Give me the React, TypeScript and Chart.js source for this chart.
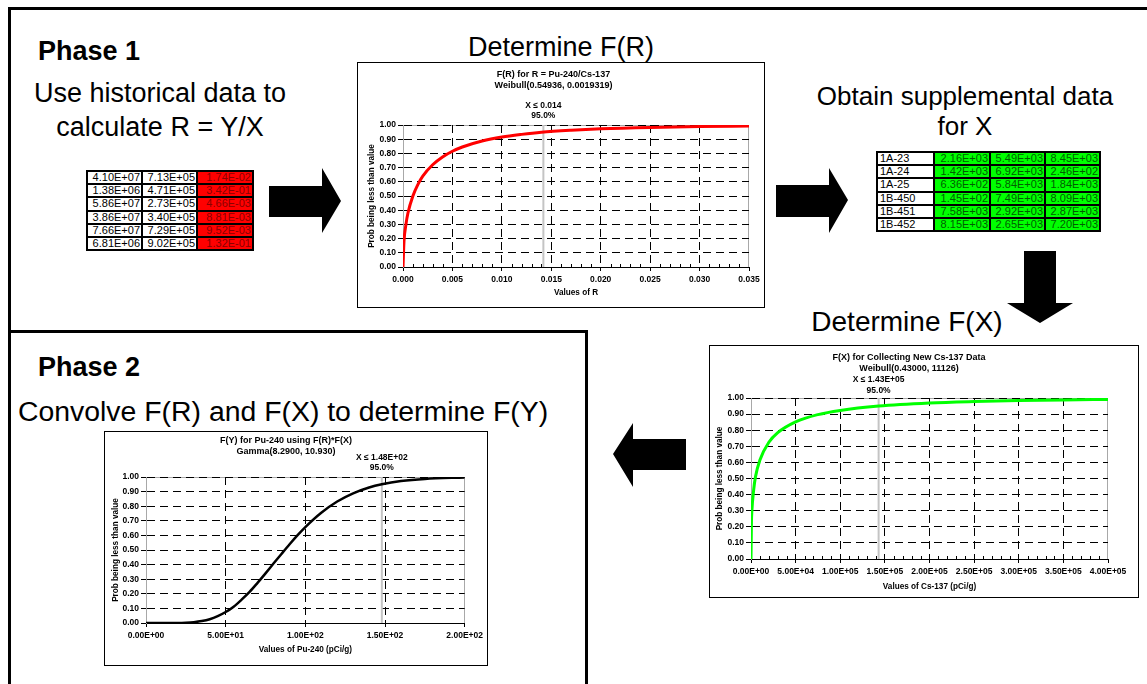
import React, { useEffect, useRef } from 'react';
import { Chart, registerables } from 'chart.js';

Chart.register(...registerables);

const FONT = 'Arial, "Liberation Sans", Helvetica, sans-serif';

// ---- Phase 1 table: historical data (Y, X, R = Y/X)
const HIST_Y = ['4.10E+07', '1.38E+06', '5.86E+07', '3.86E+07', '7.66E+07', '6.81E+06'];
const HIST_X = ['7.13E+05', '4.71E+05', '2.73E+05', '3.40E+05', '7.29E+05', '9.02E+05'];
const HIST_R = ['1.74E-02', '3.42E-01', '4.66E-03', '8.81E-03', '9.52E-03', '1.32E-01'];

// ---- Supplemental data for X
const SUPP_IDS = ['1A-23', '1A-24', '1A-25', '1B-450', '1B-451', '1B-452'];
const SUPP_C1 = ['2.16E+03', '1.42E+03', '6.36E+02', '1.45E+02', '7.58E+03', '8.15E+03'];
const SUPP_C2 = ['5.49E+03', '6.92E+03', '5.84E+03', '7.49E+03', '2.92E+03', '2.65E+03'];
const SUPP_C3 = ['8.45E+03', '2.46E+02', '1.84E+03', '8.09E+03', '2.87E+03', '7.20E+03'];

// ---- Shared probability axis
const Y_TICKS = [0, 0.1, 0.2, 0.3, 0.4, 0.5, 0.6, 0.7, 0.8, 0.9, 1.0];
const Y_LABELS = ['0.00', '0.10', '0.20', '0.30', '0.40', '0.50', '0.60', '0.70', '0.80', '0.90', '1.00'];

// ---- F(R): Weibull(0.54936, 0.0019319)
const FR_X = [0, 0.0001, 0.0003, 0.0005, 0.001, 0.0015, 0.002, 0.003, 0.004, 0.005, 0.006, 0.008, 0.010, 0.012, 0.014, 0.017, 0.020, 0.025, 0.030, 0.035];
const FR_P = [0, 0.18, 0.30, 0.38, 0.50, 0.58, 0.64, 0.72, 0.775, 0.815, 0.845, 0.887, 0.915, 0.934, 0.949, 0.963, 0.973, 0.983, 0.989, 0.993];
const FR_XTICKS = [0, 0.005, 0.010, 0.015, 0.020, 0.025, 0.030, 0.035];
const FR_XLABELS = ['0.000', '0.005', '0.010', '0.015', '0.020', '0.025', '0.030', '0.035'];
const FR_MINOR = [0.001, 0.002, 0.003, 0.004, 0.006, 0.007, 0.008, 0.009, 0.011, 0.012, 0.013, 0.014, 0.016, 0.017, 0.018, 0.019, 0.021, 0.022, 0.023, 0.024, 0.026, 0.027, 0.028, 0.029, 0.031, 0.032, 0.033, 0.034];
const FR_Q95 = 0.0142;

// ---- F(X): Weibull(0.43000, 11126)
const FX_X = [0, 500, 1000, 3000, 5000, 10000, 20000, 30000, 50000, 75000, 100000, 143000, 200000, 250000, 300000, 350000, 400000];
const FX_P = [0, 0.23, 0.30, 0.43, 0.51, 0.615, 0.725, 0.785, 0.852, 0.897, 0.923, 0.950, 0.969, 0.978, 0.984, 0.988, 0.991];
const FX_XTICKS = [0, 50000, 100000, 150000, 200000, 250000, 300000, 350000, 400000];
const FX_XLABELS = ['0.00E+00', '5.00E+04', '1.00E+05', '1.50E+05', '2.00E+05', '2.50E+05', '3.00E+05', '3.50E+05', '4.00E+05'];
const FX_MINOR = [10000, 20000, 30000, 40000, 60000, 70000, 80000, 90000, 110000, 120000, 130000, 140000, 160000, 170000, 180000, 190000, 210000, 220000, 230000, 240000, 260000, 270000, 280000, 290000, 310000, 320000, 330000, 340000, 360000, 370000, 380000, 390000];
const FX_Q95 = 143000;

// ---- F(Y): Gamma(8.2900, 10.930)
const FY_X = [0, 20, 25, 30, 35, 40, 45, 50, 55, 60, 65, 70, 75, 80, 85, 90, 95, 100, 110, 120, 130, 140, 148, 160, 175, 200];
const FY_P = [0, 0.0005, 0.002, 0.0055, 0.013, 0.026, 0.047, 0.075, 0.112, 0.16, 0.213, 0.275, 0.34, 0.407, 0.473, 0.538, 0.60, 0.657, 0.755, 0.832, 0.888, 0.928, 0.950, 0.972, 0.987, 0.997];
const FY_XTICKS = [0, 50, 100, 150, 200];
const FY_XLABELS = ['0.00E+00', '5.00E+01', '1.00E+02', '1.50E+02', '2.00E+02'];
const FY_Q95 = 148;

type Spec = {
  w: number; h: number;
  xs: number[]; ps: number[];
  color: string; lw: number;
  xMin: number; xMax: number;
  xTicks: number[]; xLabels: string[]; minor: number[];
  title: string[]; annot: string[]; q95: number;
  xTitle: string; yTitle: string;
  yW: number; right: number; xH: number;
  titleTop: number; titleBottom: number;
  yTitlePad: number; xTitlePad: number;
  annotDy: number[];
};

function ProbChart({ spec }: { spec: Spec }) {
  const ref = useRef<HTMLCanvasElement | null>(null);
  useEffect(() => {
    const canvas = ref.current;
    if (!canvas) return;
    const s = spec;
    const decor = {
      id: 'decor',
      beforeDraw(chart: any) {
        const { ctx, chartArea: a } = chart;
        ctx.save();
        ctx.fillStyle = '#ffffff';
        ctx.fillRect(0, 0, chart.width, chart.height);
        ctx.strokeStyle = '#a8a8a8';
        ctx.lineWidth = 1;
        ctx.strokeRect(Math.round(a.left) + 0.5, Math.round(a.top) + 0.5, Math.round(a.right - a.left) - 1, Math.round(a.bottom - a.top));
        ctx.restore();
      },
      beforeDatasetsDraw(chart: any) {
        const { ctx, chartArea: a, scales } = chart;
        ctx.save();
        const qx = scales.x.getPixelForValue(s.q95);
        ctx.strokeStyle = '#c4c4c4';
        ctx.lineWidth = 2;
        ctx.beginPath();
        ctx.moveTo(qx, a.top);
        ctx.lineTo(qx, a.bottom);
        ctx.stroke();
        ctx.strokeStyle = '#000';
        ctx.lineWidth = 1;
        for (const v of s.minor) {
          const px = Math.round(scales.x.getPixelForValue(v)) + 0.5;
          ctx.beginPath();
          ctx.moveTo(px, a.bottom);
          ctx.lineTo(px, a.bottom - 3);
          ctx.stroke();
        }
        ctx.restore();
      },
      afterDraw(chart: any) {
        const { ctx, chartArea: a, scales } = chart;
        const qx = scales.x.getPixelForValue(s.q95);
        ctx.save();
        ctx.fillStyle = '#000';
        ctx.font = `bold 8.5px ${FONT}`;
        ctx.textAlign = 'center';
        ctx.textBaseline = 'middle';
        s.annot.forEach((t, i) => ctx.fillText(t, qx, a.top + s.annotDy[i]));
        ctx.restore();
      },
    };
    const tickFont = { family: FONT, size: 8.5, weight: 'bold' as const };
    const axisFont = { family: FONT, size: 8.2, weight: 'bold' as const };
    const clear = 'rgba(0,0,0,0)';
    const chart = new Chart(canvas, {
      type: 'line',
      data: {
        datasets: [
          {
            data: s.xs.map((x, i) => ({ x, y: s.ps[i] })),
            borderColor: s.color,
            borderWidth: s.lw,
            pointRadius: 0,
            fill: false,
            cubicInterpolationMode: 'monotone',
          },
        ],
      },
      options: {
        animation: false,
        responsive: false,
        devicePixelRatio: 1,
        events: [],
        layout: { padding: { left: 0, right: s.right, top: 0, bottom: 0 } },
        plugins: {
          legend: { display: false },
          tooltip: { enabled: false },
          title: {
            display: true,
            text: s.title,
            color: '#000',
            font: { family: FONT, size: 9, weight: 'bold', lineHeight: 11 / 9 },
            padding: { top: s.titleTop, bottom: s.titleBottom },
          },
        },
        scales: {
          x: {
            type: 'linear',
            min: s.xMin,
            max: s.xMax,
            afterBuildTicks: (sc: any) => {
              sc.ticks = s.xTicks.map((v) => ({ value: v }));
            },
            afterFit: (sc: any) => {
              sc.height = s.xH;
            },
            ticks: {
              callback: (_v: any, i: number) => s.xLabels[i],
              color: '#000',
              font: tickFont,
              padding: 4,
              autoSkip: false,
              maxRotation: 0,
              minRotation: 0,
            },
            grid: {
              color: (c: any) => (c.tick && (c.tick.value === s.xMin || c.tick.value === s.xMax) ? clear : '#000'),
              lineWidth: 1,
              tickColor: '#000',
              tickLength: 4,
            },
            border: { display: true, color: '#000', width: 1, dash: [8, 5] },
            title: {
              display: true,
              text: s.xTitle,
              color: '#000',
              font: axisFont,
              padding: { top: 0, bottom: s.xTitlePad },
            },
          },
          y: {
            type: 'linear',
            min: 0,
            max: 1,
            afterBuildTicks: (sc: any) => {
              sc.ticks = Y_TICKS.map((v) => ({ value: v }));
            },
            afterFit: (sc: any) => {
              sc.width = s.yW;
            },
            ticks: {
              callback: (_v: any, i: number) => Y_LABELS[i],
              color: '#000',
              font: tickFont,
              padding: 2,
              autoSkip: false,
            },
            grid: {
              color: (c: any) => (c.tick && c.tick.value === 0 ? clear : '#000'),
              lineWidth: 1,
              tickColor: '#000',
              tickLength: 5,
            },
            border: { display: true, color: '#a8a8a8', width: 1, dash: [8, 5] },
            title: {
              display: true,
              text: s.yTitle,
              color: '#000',
              font: axisFont,
              padding: { top: s.yTitlePad, bottom: 0 },
            },
          },
        },
      } as any,
      plugins: [decor],
    });
    return () => chart.destroy();
  }, [spec]);
  return <canvas ref={ref} width={spec.w} height={spec.h} style={{ display: 'block', width: spec.w, height: spec.h }} />;
}

const FR_SPEC: Spec = {
  w: 406, h: 244, xs: FR_X, ps: FR_P, color: '#ff0000', lw: 3,
  xMin: 0, xMax: 0.035, xTicks: FR_XTICKS, xLabels: FR_XLABELS, minor: FR_MINOR,
  title: ['F(R) for R = Pu-240/Cs-137', 'Weibull(0.54936, 0.0019319)'],
  annot: ['X \u2264 0.014', '95.0%'], q95: FR_Q95,
  xTitle: 'Values of R', yTitle: 'Prob being less than value',
  yW: 45, right: 15, xH: 40, titleTop: 6.5, titleBottom: 33.5,
  yTitlePad: 9.1, xTitlePad: 9.1, annotDy: [-19, -9],
};

const FX_SPEC: Spec = {
  w: 428, h: 251, xs: FX_X, ps: FX_P, color: '#00ff00', lw: 3,
  xMin: 0, xMax: 400000, xTicks: FX_XTICKS, xLabels: FX_XLABELS, minor: FX_MINOR,
  title: ['F(X) for Collecting New Cs-137 Data', 'Weibull(0.43000, 11126)'],
  annot: ['X \u2264 1.43E+05', '95.0%'], q95: FX_Q95,
  xTitle: 'Values of Cs-137 (pCi/g)', yTitle: 'Prob being less than value',
  yW: 41, right: 30, xH: 38, titleTop: 6.5, titleBottom: 23.5,
  yTitlePad: 5.1, xTitlePad: 5.1, annotDy: [-18, -7],
};

const FY_SPEC: Spec = {
  w: 382, h: 233, xs: FY_X, ps: FY_P, color: '#000000', lw: 2.5,
  xMin: 0, xMax: 200, xTicks: FY_XTICKS, xLabels: FY_XLABELS, minor: [],
  title: ['F(Y) for Pu-240 using F(R)*F(X)', 'Gamma(8.2900, 10.930)'],
  annot: ['X \u2264 1.48E+02', '95.0%'], q95: FY_Q95,
  xTitle: 'Values of Pu-240 (pCi/g)', yTitle: 'Prob being less than value',
  yW: 41, right: 20, xH: 42, titleTop: 3.5, titleBottom: 19.5,
  yTitlePad: 6.1, xTitlePad: 10.1, annotDy: [-19, -9],
};

function Text({ x, y, size, bold, children, center }: any) {
  const style: React.CSSProperties = {
    position: 'absolute',
    top: y - size / 2,
    left: x,
    fontSize: size,
    lineHeight: `${size}px`,
    fontFamily: FONT,
    fontWeight: bold ? 'bold' : 'normal',
    whiteSpace: 'nowrap',
    color: '#000',
  };
  if (center) style.transform = 'translateX(-50%)';
  return <div style={style}>{children}</div>;
}

function Arrow({ points }: { points: string }) {
  return (
    <svg style={{ position: 'absolute', left: 0, top: 0, overflow: 'visible' }} width={1} height={1}>
      <polygon points={points} fill="#000" />
    </svg>
  );
}

function DataGrid({ left, top, cols, rows, columns, bg, fg, align }: any) {
  const cells: any[] = [];
  for (let r = 0; r < rows.length; r++) {
    for (let c = 0; c < columns.length; c++) {
      cells.push(
        <div
          key={`${r}-${c}`}
          style={{
            boxSizing: 'border-box',
            border: '1px solid #000',
            background: bg[c],
            color: fg[c],
            textAlign: align[c],
            fontSize: 11,
            lineHeight: '11px',
            fontFamily: FONT,
            padding: '0 1px 0 2px',
            overflow: 'hidden',
            whiteSpace: 'nowrap',
          }}
        >
          {columns[c][r]}
        </div>
      );
    }
  }
  return (
    <div
      style={{
        position: 'absolute',
        left,
        top,
        display: 'grid',
        gridTemplateColumns: cols.map((c: number) => `${c}px`).join(' '),
        gridTemplateRows: `repeat(${rows.length}, 13.2px)`,
        border: '1px solid #000',
        background: '#fff',
      }}
    >
      {cells}
    </div>
  );
}

function Box({ left, top, w, h, children }: any) {
  return (
    <div style={{ position: 'absolute', left, top, width: w, height: h, border: '1px solid #000', background: '#fff' }}>
      {children}
    </div>
  );
}

export default function App() {
  return (
    <div style={{ position: 'absolute', left: 0, top: 0, width: 1147, height: 684, background: '#fff', overflow: 'hidden' }}>
      {/* frame lines */}
      <div style={{ position: 'absolute', left: 8, top: 7, width: 1139, height: 3, background: '#000' }} />
      <div style={{ position: 'absolute', left: 8, top: 7, width: 3, height: 677, background: '#000' }} />
      <div style={{ position: 'absolute', left: 8, top: 330, width: 580, height: 3, background: '#000' }} />
      <div style={{ position: 'absolute', left: 585, top: 330, width: 3, height: 354, background: '#000' }} />

      <Text x={38} y={51} size={27} bold>Phase 1</Text>
      <Text x={160} y={93} size={27} center>Use historical data to</Text>
      <Text x={160} y={127} size={27} center>calculate R = Y/X</Text>
      <Text x={561} y={47} size={27} center>Determine F(R)</Text>
      <Text x={965} y={96} size={26} center>Obtain supplemental data</Text>
      <Text x={965} y={126} size={26} center>for X</Text>
      <Text x={907} y={322} size={28} center>Determine F(X)</Text>
      <Text x={38} y={367} size={27} bold>Phase 2</Text>
      <Text x={18} y={411} size={28.4}>Convolve F(R) and F(X) to determine F(Y)</Text>

      <DataGrid
        left={86}
        top={170}
        cols={[55, 55, 56]}
        rows={HIST_Y}
        columns={[HIST_Y, HIST_X, HIST_R]}
        bg={['#fff', '#fff', '#ff0000']}
        fg={['#000', '#000', '#8a0000']}
        align={['right', 'right', 'right']}
      />
      <DataGrid
        left={876}
        top={151}
        cols={[57, 56, 55, 55]}
        rows={SUPP_IDS}
        columns={[SUPP_IDS, SUPP_C1, SUPP_C2, SUPP_C3]}
        bg={['#fff', '#00ff00', '#00ff00', '#00ff00']}
        fg={['#000', '#006000', '#006000', '#006000']}
        align={['left', 'right', 'right', 'right']}
      />

      <Arrow points="269,186 322,186 322,168 341,201 322,233 322,217 269,217" />
      <Arrow points="776,185 829,185 829,168 848,200 829,233 829,217 776,217" />
      <Arrow points="1024,251 1056,251 1056,303 1073,303 1040,323 1007,303 1024,303" />
      <Arrow points="686,439 633,439 633,423 613,454 633,487 633,470 686,470" />

      <Box left={357} top={62} w={406} h={244}>
        <ProbChart spec={FR_SPEC} />
      </Box>
      <Box left={709} top={345} w={428} h={251}>
        <ProbChart spec={FX_SPEC} />
      </Box>
      <Box left={104} top={431} w={382} h={233}>
        <ProbChart spec={FY_SPEC} />
      </Box>
    </div>
  );
}
